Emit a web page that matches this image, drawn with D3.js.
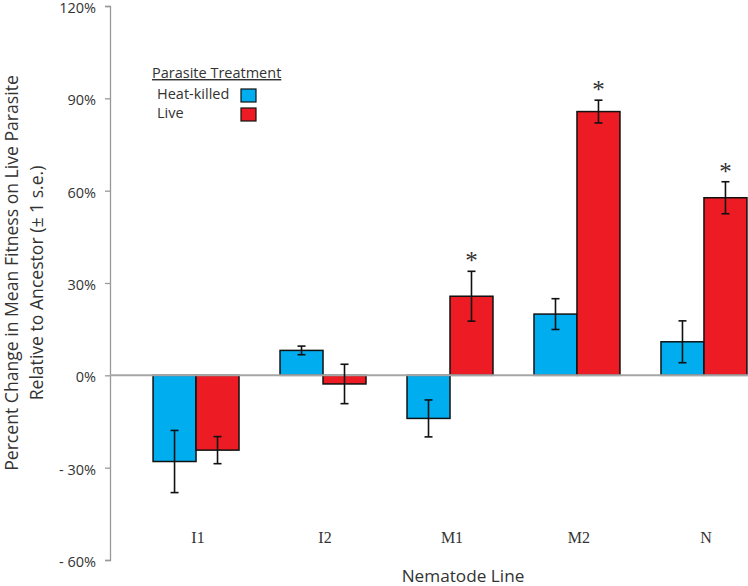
<!DOCTYPE html>
<html>
<head>
<meta charset="utf-8">
<script src="https://cdn.jsdelivr.net/npm/d3@7.9.0/dist/d3.min.js"></script>
<style>
  body { margin: 0; background: #fff; }
  svg text { fill: #333; }
</style>
</head>
<body>
<svg id="chart" width="748" height="586"></svg>
<script>
// data (percent)
const lines      = ['I1', 'I2', 'M1', 'M2', 'N'];
const treatments = ['Heat-killed', 'Live'];
const heatMean   = [-28, 8.1, -14, 19.9, 10.9];
const heatSE     = [10.1, 1.4, 6.0, 5.0, 6.8];
const liveMean   = [-24.3, -2.8, 25.7, 85.7, 57.7];
const liveSE     = [4.4, 6.4, 8.1, 3.7, 5.2];
const liveSig    = [false, false, true, true, true];
const yTicks     = [-60, -30, 0, 30, 60, 90, 120];

const colors = { 'Heat-killed': '#00aeef', 'Live': '#ed1c24' };

const rows = [];
lines.forEach((l, i) => {
  rows.push({ line: l, t: 'Heat-killed', v: heatMean[i], se: heatSE[i], sig: false });
  rows.push({ line: l, t: 'Live', v: liveMean[i], se: liveSE[i], sig: liveSig[i] });
});

const svg = d3.select('#chart');

const y = d3.scaleLinear().domain([-60, 120]).range([560, 6]);
const x = d3.scaleBand().domain(lines).range([110, 790])
            .paddingInner(0.323).paddingOuter(0.339);
const xs = d3.scaleBand().domain(treatments).range([0, x.bandwidth()]);

// y axis
const yAxis = svg.append('g').attr('transform', 'translate(110,0)')
  .call(d3.axisLeft(y).tickValues(yTicks).tickSize(5).tickPadding(9)
        .tickFormat(d => d < 0 ? `- ${-d}%` : `${d}%`));
yAxis.select('.domain').attr('stroke', '#999').attr('stroke-width', 1.3);
yAxis.selectAll('.tick line').attr('stroke', '#999').attr('stroke-width', 1.3);
yAxis.selectAll('.tick text')
  .attr('font-family', '"Open Sans", sans-serif').attr('font-size', 14.5)
  .attr('dy', '0.45em').attr('fill', '#333');

// bars
const bars = svg.append('g');
bars.selectAll('rect').data(rows).enter().append('rect')
  .attr('x', d => x(d.line) + xs(d.t))
  .attr('width', xs.bandwidth())
  .attr('y', d => y(Math.max(0, d.v)))
  .attr('height', d => Math.abs(y(d.v) - y(0)))
  .attr('fill', d => colors[d.t])
  .attr('stroke', '#111').attr('stroke-width', 1.5);

// zero line on top of the bars
svg.append('line')
  .attr('x1', 110).attr('x2', 748).attr('y1', y(0)).attr('y2', y(0))
  .attr('stroke', '#a6a6a6').attr('stroke-width', 2);

// error bars
const err = svg.append('g').attr('stroke', '#111').attr('stroke-width', 1.6);
rows.forEach(d => {
  const cx = x(d.line) + xs(d.t) + xs.bandwidth() / 2;
  const top = y(d.v + d.se), bot = y(d.v - d.se);
  err.append('line').attr('x1', cx).attr('x2', cx).attr('y1', top).attr('y2', bot);
  err.append('line').attr('x1', cx - 4).attr('x2', cx + 4).attr('y1', top).attr('y2', top);
  err.append('line').attr('x1', cx - 4).attr('x2', cx + 4).attr('y1', bot).attr('y2', bot);
});

// significance stars
svg.append('g').selectAll('text').data(rows.filter(d => d.sig)).enter().append('text')
  .attr('x', d => x(d.line) + xs(d.t) + xs.bandwidth() / 2)
  .attr('y', d => y(d.v + d.se) - 2)
  .attr('text-anchor', 'middle')
  .attr('font-family', '"Liberation Serif", serif').attr('font-size', 25)
  .text('*');

// category labels
svg.append('g').selectAll('text').data(lines).enter().append('text')
  .attr('x', d => x(d) + x.bandwidth() / 2 + 2)
  .attr('y', 543)
  .attr('text-anchor', 'middle')
  .attr('font-family', '"Liberation Serif", serif').attr('font-size', 16)
  .text(d => d);

// axis titles
svg.append('text').attr('x', 463).attr('y', 582).attr('text-anchor', 'middle')
  .attr('font-family', '"Open Sans", sans-serif').attr('font-size', 17.2)
  .text('Nematode Line');

const yt = svg.append('text').attr('transform', 'translate(0,273) rotate(-90)')
  .attr('text-anchor', 'middle')
  .attr('font-family', '"Open Sans", sans-serif').attr('font-size', 17.6);
yt.append('tspan').attr('x', 0).attr('y', 18).text('Percent Change in Mean Fitness on Live Parasite');
yt.append('tspan').attr('x', -10).attr('y', 43).text('Relative to Ancestor (\u00b1 1 s.e.)');

// legend
const lg = svg.append('g').attr('font-family', '"Open Sans", sans-serif');
lg.append('text').attr('x', 152).attr('y', 78).attr('font-size', 14.5)
  .attr('text-decoration', 'underline').text('Parasite Treatment');
treatments.forEach((t, i) => {
  lg.append('text').attr('x', 157).attr('y', 99 + i * 19).attr('font-size', 14.5).text(t);
  lg.append('rect').attr('x', 241).attr('y', 89 + i * 19).attr('width', 15).attr('height', 13)
    .attr('fill', colors[t]).attr('stroke', '#111').attr('stroke-width', 1.2);
});
</script>
</body>
</html>
